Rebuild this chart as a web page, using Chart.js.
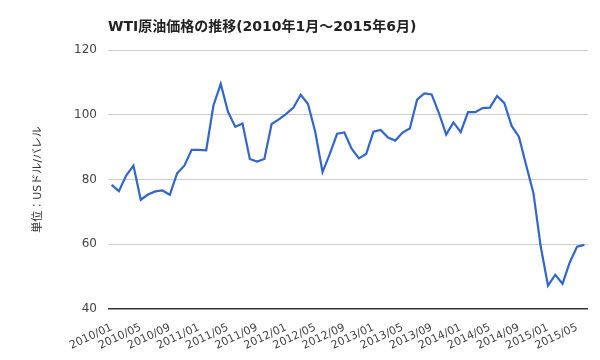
<!DOCTYPE html>
<html>
<head>
  <meta charset="UTF-8">
  <title>WTI原油価格の推移</title>
  <script src="https://cdn.jsdelivr.net/npm/chart.js"></script>
  <style>
    body {
      margin: 0;
      background: #fff;
    }

    #wrap {
      position: relative;
      width: 600px;
      height: 360px;
    }

    #title {
      position: absolute;
      left: 108px;
      top: 15px;
      font-family: "DejaVu Sans", "Noto Sans CJK JP", sans-serif;
      font-size: 14px;
      font-weight: bold;
      color: #222;
      white-space: nowrap;
    }
  </style>
</head>
<body>
  <div id="wrap">
    <div id="title">WTI原油価格の推移(2010年1月～2015年6月)</div>
    <canvas id="chart" width="600" height="360"></canvas>
  </div>

  <script>
    // monthly average, USD per barrel
    const years = [2010, 2011, 2012, 2013, 2014, 2015];
    const months = ["01", "02", "03", "04", "05", "06", "07", "08", "09", "10", "11", "12"];

    const prices2010 = [78.33, 76.39, 81.20, 84.29, 73.74, 75.34, 76.32, 76.60, 75.24, 81.89, 84.25, 89.15];
    const prices2011 = [89.17, 89.00, 102.86, 109.53, 100.90, 96.26, 97.30, 86.33, 85.52, 86.32, 97.16, 98.56];
    const prices2012 = [100.27, 102.20, 106.16, 103.32, 94.66, 82.30, 87.90, 94.13, 94.51, 89.49, 86.53, 87.86];
    const prices2013 = [94.76, 95.31, 92.94, 92.02, 94.51, 95.77, 104.67, 106.57, 106.29, 100.54, 93.86, 97.63];
    const prices2014 = [94.62, 100.82, 100.80, 102.07, 102.18, 105.79, 103.59, 96.54, 93.21, 84.40, 75.79, 59.29];
    const prices2015 = [47.22, 50.58, 47.82, 54.45, 59.27, 59.82];

    const yTicks = [40, 60, 80, 100, 120];

    const labels = [];
    years.forEach(y => {
      const n = y === 2015 ? 6 : 12;
      for (let i = 0; i < n; i++) labels.push(y + "/" + months[i]);
    });
    const prices = [].concat(prices2010, prices2011, prices2012, prices2013, prices2014, prices2015);

    const fontFamily = "'DejaVu Sans', 'Noto Sans CJK JP', sans-serif";

    new Chart(document.getElementById("chart"), {
      type: "line",
      data: {
        labels: labels,
        datasets: [{
          data: prices,
          borderColor: "#3366cc",
          borderWidth: 2.2,
          pointRadius: 0,
          fill: false,
          tension: 0
        }]
      },
      options: {
        responsive: false,
        animation: false,
        layout: { padding: { left: 28, top: 50, right: 12, bottom: 0 } },
        plugins: {
          legend: { display: false },
          tooltip: { enabled: false }
        },
        scales: {
          x: {
            offset: true,
            grid: { display: false },
            border: { display: false },
            ticks: {
              autoSkip: false,
              minRotation: 25,
              maxRotation: 25,
              padding: 4,
              color: "#444",
              font: { family: fontFamily, size: 11 },
              callback: function (v, i) {
                return i % 4 === 0 ? labels[i] : null;
              }
            },
            afterFit: function (scale) { scale.height = 51; }
          },
          y: {
            min: 40,
            max: 120,
            afterBuildTicks: function (scale) {
              scale.ticks = yTicks.map(v => ({ value: v }));
            },
            grid: {
              drawTicks: false,
              color: ctx => ctx.tick && ctx.tick.value === 40 ? "#333" : "#ccc",
              lineWidth: ctx => ctx.tick && ctx.tick.value === 40 ? 1.5 : 1
            },
            border: { display: false },
            ticks: {
              padding: 11,
              color: "#444",
              font: { family: fontFamily, size: 12 }
            },
            title: {
              display: true,
              text: "単位：USドル/バレル",
              color: "#333",
              font: { family: fontFamily, size: 11 }
            },
            afterFit: function (scale) { scale.width = 80; }
          }
        }
      }
    });
  </script>
</body>
</html>
